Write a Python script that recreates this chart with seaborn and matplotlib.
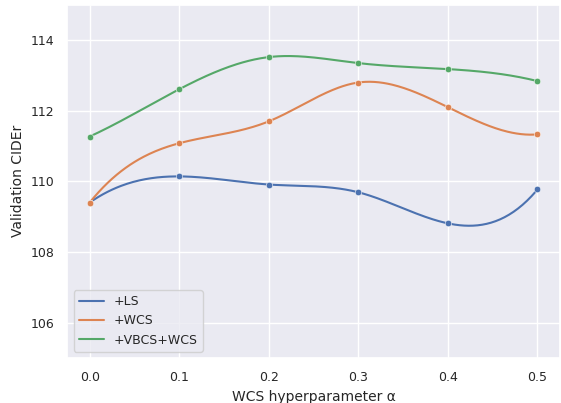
import numpy as np
import pandas as pd
import seaborn as sns
import matplotlib.pyplot as plt

# values
alpha = [0.0, 0.1, 0.2, 0.3, 0.4, 0.5]
ls_cider = [109.40, 110.14, 109.91, 109.69, 108.81, 109.77]
wcs_cider = [109.40, 111.08, 111.70, 112.80, 112.10, 111.33]
vbcs_wcs_cider = [111.27, 112.61, 113.52, 113.35, 113.18, 112.84]
series_names = ['+LS', '+WCS', '+VBCS+WCS']


def smooth(x, y, n=300):
    # cubic spline with not-a-knot ends, only used to draw the curve
    x = np.asarray(x, float)
    y = np.asarray(y, float)
    m = len(x) - 1
    A = np.zeros((4 * m, 4 * m))
    b = np.zeros(4 * m)
    r = 0
    for i in range(m):
        for xx, yy in ((x[i], y[i]), (x[i + 1], y[i + 1])):
            A[r, 4 * i:4 * i + 4] = [xx ** 3, xx ** 2, xx, 1]
            b[r] = yy
            r += 1
    for i in range(1, m):
        xx = x[i]
        A[r, 4 * (i - 1):4 * i] = [3 * xx ** 2, 2 * xx, 1, 0]
        A[r, 4 * i:4 * i + 4] = [-3 * xx ** 2, -2 * xx, -1, 0]
        r += 1
        A[r, 4 * (i - 1):4 * i] = [6 * xx, 2, 0, 0]
        A[r, 4 * i:4 * i + 4] = [-6 * xx, -2, 0, 0]
        r += 1
    for i in (1, m - 1):
        A[r, 4 * (i - 1)] = 1
        A[r, 4 * i] = -1
        r += 1
    c = np.linalg.solve(A, b).reshape(m, 4)
    xs = np.linspace(x[0], x[-1], n)
    idx = np.clip(np.searchsorted(x, xs, side='right') - 1, 0, m - 1)
    ys = np.array([np.polyval(c[k], v) for k, v in zip(idx, xs)])
    return xs, ys


sns.set_theme(style='darkgrid')
fig, ax = plt.subplots(figsize=(5.61, 4.03), dpi=100)
fig.subplots_adjust(left=0.12, right=0.998, top=0.988, bottom=0.112)

palette = sns.color_palette()
for k, (name, vals) in enumerate(zip(series_names, [ls_cider, wcs_cider, vbcs_wcs_cider])):
    xs, ys = smooth(alpha, vals)
    sns.lineplot(x=xs, y=ys, ax=ax, color=palette[k], label=name, linewidth=1.5)
    sns.scatterplot(x=alpha, y=vals, ax=ax, color=palette[k], s=22, legend=False, zorder=3)

ax.set_ylim(105, 115)
ax.set_xlabel('WCS hyperparameter α', fontsize=10)
ax.set_ylabel('Validation CIDEr', fontsize=10)
ax.tick_params(labelsize=9)
ax.legend(loc='lower left', fontsize=9)
fig.savefig('out.png')
